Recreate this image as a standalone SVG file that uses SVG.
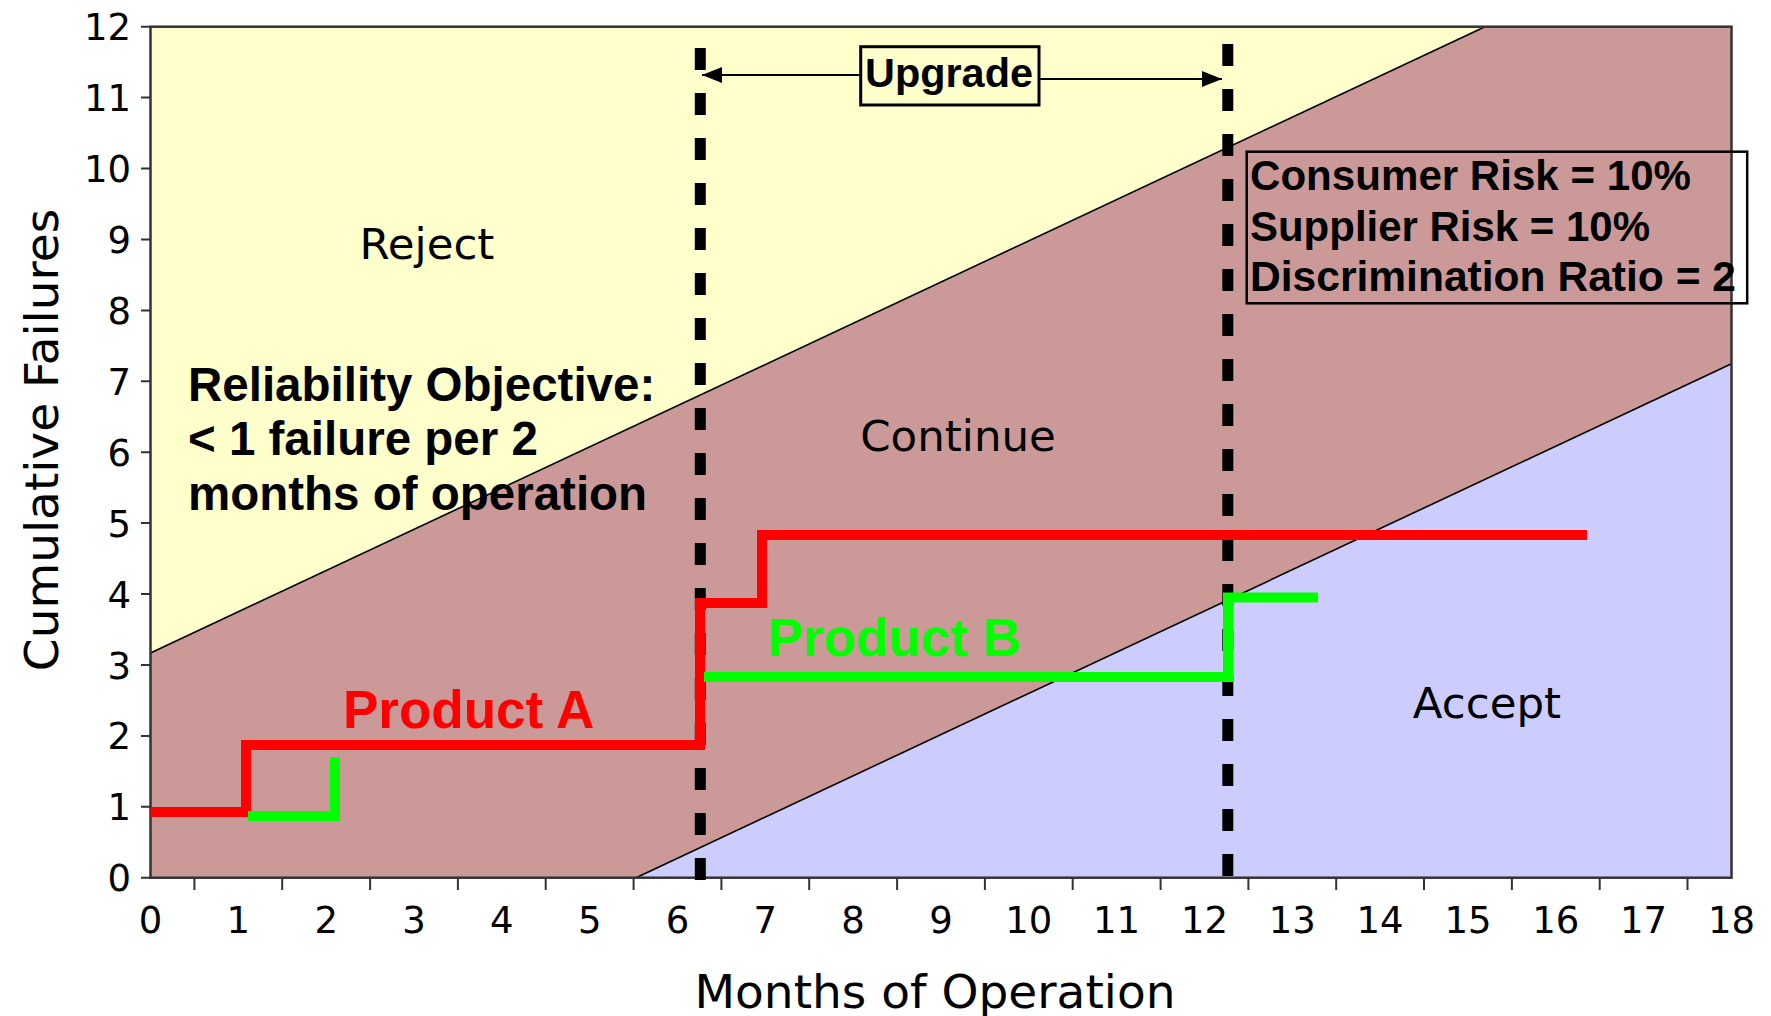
<svg xmlns="http://www.w3.org/2000/svg" width="1771" height="1016" viewBox="0 0 1771 1016">
<style>
.tick{stroke:#333;stroke-width:2;fill:none}
.num{font-family:"DejaVu Sans",Verdana,sans-serif;font-size:37px;fill:#000}
.ttl{font-family:"DejaVu Sans",Verdana,sans-serif;font-size:47px;fill:#000}
.zone{font-family:"DejaVu Sans",Verdana,sans-serif;font-size:43.5px;fill:#000;text-anchor:middle}
.bold{font-family:"Liberation Sans",Arial,sans-serif;font-weight:bold}
.obj{font-family:"Liberation Sans",Arial,sans-serif;font-weight:bold;font-size:47.5px;fill:#000}
.bound{stroke:#000;stroke-width:1.6;fill:none}
.dash{stroke:#000;stroke-width:11;stroke-dasharray:22 23;fill:none}
.step{fill:none;stroke-width:10;stroke-linejoin:miter;stroke-linecap:butt}
.arr{stroke:#000;stroke-width:2;fill:none}
</style>
<defs>
<marker id="ah" markerUnits="userSpaceOnUse" markerWidth="22" markerHeight="18" refX="20" refY="8" orient="auto">
<path d="M0,0 L20,8 L0,16 Z" fill="#000"/>
</marker>
</defs>
<rect width="1771" height="1016" fill="#fff"/>

<g id="regions">
<rect id="reject-zone" x="150.5" y="26.7" width="1581" height="851" fill="#FFFFCC"/>
<polygon id="continue-zone" points="150.5,653 1485,26.7 1731.5,26.7 1731.5,363.7 636,877.7 150.5,877.7" fill="#CC9999"/>
<polygon id="accept-zone" points="636,877.7 1731.5,363.7 1731.5,877.7" fill="#CCCCFF"/>
<line class="bound" x1="150.5" y1="653" x2="1485" y2="26.7"/>
<line class="bound" x1="636" y1="877.7" x2="1731.5" y2="363.7"/>
</g>

<g id="axes">
<rect x="150.5" y="26.7" width="1581" height="851" fill="none" stroke="#333" stroke-width="2.5"/>
<path class="tick" d="M141,877.7H150.5 M141,806.8H150.5 M141,735.9H150.5 M141,665H150.5 M141,594H150.5 M141,523.1H150.5 M141,452.2H150.5 M141,381.3H150.5 M141,310.4H150.5 M141,239.5H150.5 M141,168.5H150.5 M141,97.6H150.5 M141,26.7H150.5"/>
<path class="tick" d="M194.4,877.7V890 M282.2,877.7V890 M370.1,877.7V890 M457.9,877.7V890 M545.7,877.7V890 M633.6,877.7V890 M721.4,877.7V890 M809.2,877.7V890 M897.1,877.7V890 M984.9,877.7V890 M1072.7,877.7V890 M1160.6,877.7V890 M1248.4,877.7V890 M1336.2,877.7V890 M1424,877.7V890 M1511.9,877.7V890 M1599.7,877.7V890 M1687.5,877.7V890"/>
<g class="num" text-anchor="end">
<text x="131" y="891.2">0</text>
<text x="131" y="820.3">1</text>
<text x="131" y="749.4">2</text>
<text x="131" y="678.5">3</text>
<text x="131" y="607.5">4</text>
<text x="131" y="536.6">5</text>
<text x="131" y="465.7">6</text>
<text x="131" y="394.8">7</text>
<text x="131" y="323.9">8</text>
<text x="131" y="253">9</text>
<text x="131" y="182">10</text>
<text x="131" y="111.1">11</text>
<text x="131" y="40.2">12</text>
</g>
<g class="num" text-anchor="middle">
<text x="150.5" y="933">0</text>
<text x="238.3" y="933">1</text>
<text x="326.2" y="933">2</text>
<text x="414" y="933">3</text>
<text x="501.8" y="933">4</text>
<text x="589.7" y="933">5</text>
<text x="677.5" y="933">6</text>
<text x="765.3" y="933">7</text>
<text x="853.1" y="933">8</text>
<text x="941" y="933">9</text>
<text x="1028.8" y="933">10</text>
<text x="1116.6" y="933">11</text>
<text x="1204.5" y="933">12</text>
<text x="1292.3" y="933">13</text>
<text x="1380.1" y="933">14</text>
<text x="1468" y="933">15</text>
<text x="1555.8" y="933">16</text>
<text x="1643.6" y="933">17</text>
<text x="1731.5" y="933">18</text>
</g>
<text id="x-title" class="ttl" x="935" y="1008" text-anchor="middle">Months of Operation</text>
<text id="y-title" class="ttl" transform="translate(58,440) rotate(-90)" text-anchor="middle">Cumulative Failures</text>
</g>

<g id="zone-labels">
<text id="label-reject" class="zone" x="427" y="259">Reject</text>
<text id="label-continue" class="zone" x="958" y="451">Continue</text>
<text id="label-accept" class="zone" x="1487" y="718">Accept</text>
</g>

<g id="objective">
<text class="obj" x="188" y="401">Reliability Objective:</text>
<text class="obj" x="188" y="455">&lt; 1 failure per 2</text>
<text class="obj" x="188" y="510">months of operation</text>
</g>

<g id="upgrade-markers">
<line class="dash" x1="700.3" y1="48" x2="700.3" y2="884"/>
<line class="dash" x1="1227.8" y1="44" x2="1227.8" y2="884"/>
</g>

<g id="product-a">
<path class="step" stroke="#FF0000" d="M150.5,812 H246 V745 H700 V603 H762 V535 H1587"/>
<text class="bold" x="343" y="728" font-size="53" fill="#FF0000">Product A</text>
</g>

<g id="product-b">
<path class="step" stroke="#00FF00" d="M248,816 H335 V757"/>
<path class="step" stroke="#00FF00" d="M704,677 H1228 V597.5 H1318"/>
<text class="bold" x="768" y="656" font-size="53" fill="#00FF00">Product B</text>
</g>

<g id="upgrade">
<rect x="860.7" y="46.7" width="178.3" height="58.3" fill="none" stroke="#000" stroke-width="3"/>
<text class="bold" x="865" y="87" font-size="41" textLength="168" lengthAdjust="spacingAndGlyphs">Upgrade</text>
</g>

<g id="connectors">
<line class="arr" x1="860.7" y1="75" x2="702" y2="75" marker-end="url(#ah)"/>
<line class="arr" x1="1039" y1="79" x2="1222" y2="79" marker-end="url(#ah)"/>
</g>

<g id="risk-box">
<rect x="1246.7" y="151.7" width="500.5" height="151.6" fill="none" stroke="#000" stroke-width="2.5"/>
<text class="bold" x="1250" y="190" font-size="42" textLength="441" lengthAdjust="spacingAndGlyphs">Consumer Risk = 10%</text>
<text class="bold" x="1250" y="241" font-size="42" textLength="400" lengthAdjust="spacingAndGlyphs">Supplier Risk = 10%</text>
<text class="bold" x="1250" y="291" font-size="42" textLength="486" lengthAdjust="spacingAndGlyphs">Discrimination Ratio = 2</text>
</g>
</svg>
